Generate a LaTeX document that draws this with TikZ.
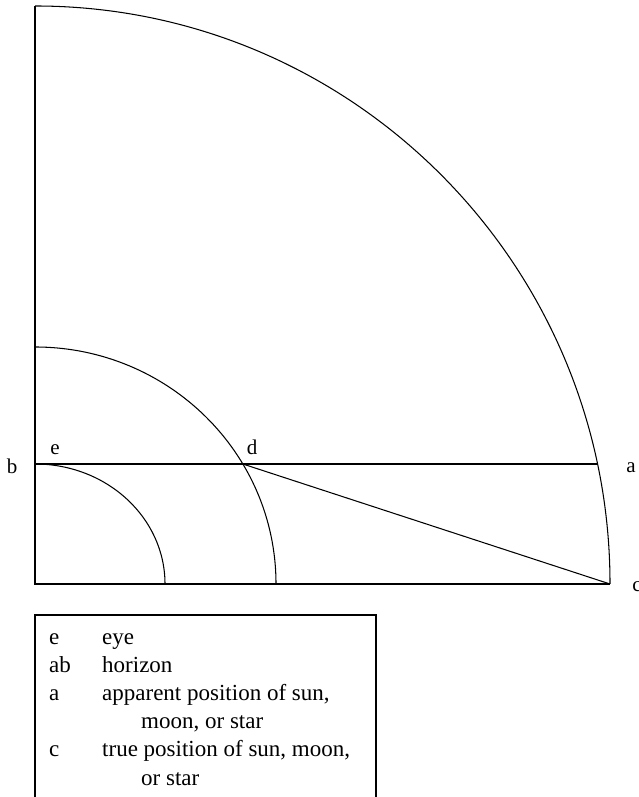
\documentclass[tikz,border=0pt]{standalone}
\usepackage{fontspec}
\setmainfont{Liberation Serif}
\begin{document}
\begin{tikzpicture}[x=1pt,y=1pt,
  geo/.style={line width=1.05pt, black},
  lbl/.style={font=\fontsize{21}{25}\selectfont, inner sep=0pt, anchor=base},
  leg/.style={font=\fontsize{23}{27}\selectfont, inner sep=0pt, anchor=base west}]
\useasboundingbox (0,0) rectangle (639,797);
\clip (0,0) rectangle (639,797);
% key points (y = 797 - pixel row)
\coordinate (O) at (35,213);
\coordinate (T) at (35,791);
\coordinate (b) at (35,333);
\coordinate (d) at (242.8,333);
\coordinate (a) at (597.5,333);
\coordinate (c) at (610,213);
\coordinate (M) at (35,450);
% frame
\draw[geo] (T) -- (O) -- (c);
% arcs
\draw[geo] (T) arc[start angle=90,end angle=0,x radius=575pt,y radius=578pt];
\draw[geo] (M) arc[start angle=90,end angle=0,x radius=241pt,y radius=237pt];
\draw[geo] (b) arc[start angle=90,end angle=0,x radius=130pt,y radius=120pt];
% horizon and ray
\draw[geo] (b) -- (d) -- (a);
\draw[geo] (d) -- (c);
% point labels
\node[lbl] (lb) at (12,323) {b};
\node[lbl] (le) at (55,342) {e};
\node[lbl] (ld) at (252,342) {d};
\node[lbl] (la) at (631,324) {a};
\node[lbl] (lc) at (637,205) {c};
% legend box
\coordinate (L1) at (35,-20);
\coordinate (L2) at (35,182);
\coordinate (L3) at (376,182);
\coordinate (L4) at (376,-20);
\draw[geo] (L1) -- (L2) -- (L3) -- (L4);
\node[leg] (k1) at (49,152) {e};
\node[leg] (t1) at (102,152) {eye};
\node[leg] (k2) at (49,124) {ab};
\node[leg] (t2) at (102,124) {horizon};
\node[leg] (k3) at (49,96) {a};
\node[leg] (t3) at (102,96) {apparent position of sun,};
\node[leg] (t3b) at (141,68) {moon, or star};
\node[leg] (k4) at (49,40) {c};
\node[leg] (t4) at (102,40) {true position of sun, moon,};
\node[leg] (t4b) at (141,12) {or star};
\end{tikzpicture}
\end{document}
